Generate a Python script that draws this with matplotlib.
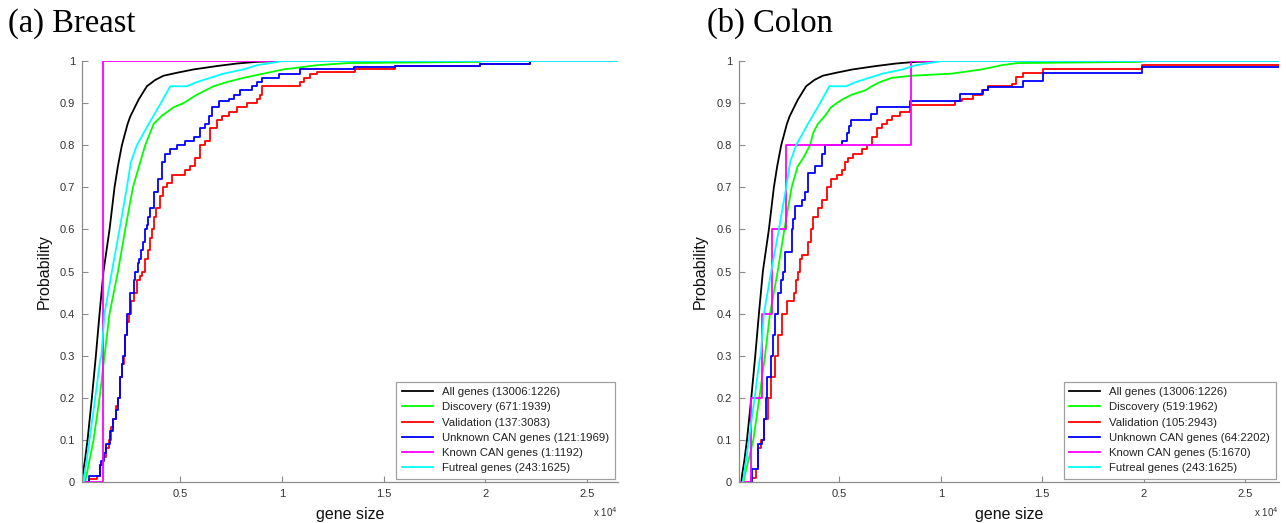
import matplotlib
matplotlib.use("Agg")
import matplotlib.pyplot as plt
from matplotlib.ticker import FuncFormatter

plt.rcParams['font.family'] = ['Liberation Sans', 'DejaVu Sans']

# ---------------------------------------------------------------------------
# data (gene size, cumulative probability)
# ---------------------------------------------------------------------------

# all genes, same curve in both panels
all_x = [164, 213, 311, 443, 656, 852, 1033, 1226, 1524, 1770, 1934, 2131, 2409, 2540,
         2950, 3360, 3770, 4179, 4835, 5655, 6802, 7785, 8769, 10000, 26700]
all_y = [0, 0.02, 0.05, 0.1, 0.2, 0.3, 0.4, 0.5, 0.6, 0.7, 0.75, 0.8, 0.85, 0.868,
         0.908, 0.94, 0.955, 0.965, 0.972, 0.98, 0.988, 0.994, 0.998, 1.0, 1.0]

# futreal genes, same curve in both panels
futreal_x = [246, 541, 820, 1065, 1120, 1278, 1639, 2016, 2377, 2573, 2868, 3442, 3688,
             4048, 4507, 5327, 5818, 6474, 7130, 8113, 8769, 10080, 26700]
futreal_y = [0, 0.1, 0.2, 0.29, 0.3, 0.4, 0.5, 0.6, 0.7, 0.76, 0.8, 0.85, 0.87,
             0.9, 0.94, 0.94, 0.95, 0.96, 0.97, 0.98, 0.99, 1.0, 1.0]

# (a) breast
disc_a_x = [328, 738, 1033, 1278, 1524, 1939, 2295, 2672, 3278, 3688, 4098, 4671, 5163,
            5818, 6638, 7294, 8113, 9096, 10080, 11719, 13194, 19750, 19750, 26700]
disc_a_y = [0, 0.1, 0.2, 0.3, 0.4, 0.5, 0.6, 0.7, 0.8, 0.85, 0.87, 0.89, 0.9,
            0.92, 0.94, 0.95, 0.96, 0.97, 0.98, 0.99, 0.995, 0.998, 1.0, 1.0]

valid_a_x = [520, 900, 1050, 1200, 1330, 1500, 1620, 1700, 1840, 1934, 2049, 2130, 2213,
             2295, 2380, 2459, 2580, 2704, 2868, 3000, 3114, 3250, 3393, 3500, 3606, 3688,
             3819, 3983, 4147, 4343, 4589, 5245, 5491, 5737, 5982, 6228, 6474, 6802, 7048,
             7376, 7785, 8277, 8769, 8933, 9015, 10899, 11100, 11400, 11719, 13604, 15570,
             19750, 22210]
valid_a_y = [0.007, 0.015, 0.04, 0.06, 0.08, 0.1, 0.13, 0.15, 0.18, 0.2, 0.25, 0.28, 0.3,
             0.35, 0.38, 0.4, 0.43, 0.45, 0.48, 0.49, 0.5, 0.53, 0.55, 0.58, 0.6, 0.63,
             0.65, 0.68, 0.7, 0.71, 0.73, 0.74, 0.75, 0.77, 0.8, 0.81, 0.84, 0.86, 0.87,
             0.88, 0.89, 0.9, 0.91, 0.92, 0.94, 0.95, 0.96, 0.97, 0.975, 0.98, 0.988,
             0.994, 1.0]

unk_a_x = [524, 1033, 1098, 1229, 1360, 1524, 1688, 1836, 1934, 2049, 2131, 2180, 2262,
           2377, 2540, 2704, 2800, 2900, 2980, 3065, 3150, 3278, 3350, 3400, 3524, 3688,
           3884, 4098, 4261, 4507, 4835, 5245, 5655, 5982, 6228, 6392, 6556, 6884, 7376,
           7621, 7949, 8523, 8769, 9015, 9834, 10899, 13522, 15570, 19750, 22210]
unk_a_y = [0.015, 0.04, 0.05, 0.07, 0.09, 0.12, 0.15, 0.17, 0.2, 0.25, 0.28, 0.3, 0.35,
           0.4, 0.45, 0.48, 0.5, 0.52, 0.53, 0.55, 0.57, 0.6, 0.61, 0.63, 0.65, 0.69,
           0.72, 0.76, 0.78, 0.79, 0.8, 0.81, 0.82, 0.84, 0.85, 0.87, 0.89, 0.905, 0.91,
           0.92, 0.93, 0.94, 0.95, 0.96, 0.97, 0.98, 0.985, 0.988, 0.994, 1.0]

known_a = [1192]

# (b) colon
disc_b_x = [263, 757, 1053, 1332, 1579, 1958, 2287, 2648, 2945, 3224, 3553, 3718, 3932,
            4293, 4590, 4869, 5198, 5609, 6267, 6596, 7008, 7583, 8570, 10544, 12025,
            13012, 13742, 19907, 19907, 26700]
disc_b_y = [0, 0.1, 0.2, 0.3, 0.4, 0.5, 0.6, 0.7, 0.75, 0.77, 0.8, 0.83, 0.85,
            0.87, 0.89, 0.9, 0.91, 0.92, 0.93, 0.94, 0.95, 0.96, 0.965, 0.97, 0.98,
            0.99, 0.995, 0.998, 1.0, 1.0]

valid_b_x = [650, 900, 1003, 1135, 1300, 1464, 1629, 1826, 1990, 2188, 2402, 2780, 2870,
             2945, 3060, 3142, 3471, 3603, 3718, 3932, 4129, 4376, 4590, 4869, 5116, 5281,
             5445, 5692, 6103, 6350, 6596, 6843, 7090, 7337, 7583, 7995, 8488, 10709, 11038,
             11614, 12025, 12354, 13505, 13700, 14070, 15057, 19907]
valid_b_y = [0.0095, 0.03, 0.08, 0.1, 0.15, 0.2, 0.25, 0.3, 0.35, 0.4, 0.43, 0.45, 0.48,
             0.5, 0.53, 0.54, 0.57, 0.6, 0.63, 0.65, 0.67, 0.7, 0.72, 0.73, 0.74, 0.76,
             0.77, 0.78, 0.79, 0.8, 0.82, 0.84, 0.85, 0.86, 0.87, 0.88, 0.895, 0.905, 0.91,
             0.92, 0.93, 0.94, 0.945, 0.963, 0.971, 0.981, 0.99]

unk_b_x = [674, 1003, 1168, 1300, 1365, 1415, 1629, 1711, 1826, 1990, 2122, 2237, 2319,
           2648, 2731, 2813, 3142, 3306, 3471, 3800, 4129, 4293, 5116, 5363, 5478, 5577,
           6547, 6843, 8488, 10956, 12107, 12354, 14070, 15057, 19907]
unk_b_y = [0.03, 0.09, 0.1, 0.15, 0.2, 0.25, 0.3, 0.35, 0.4, 0.45, 0.48, 0.5, 0.547,
           0.6, 0.625, 0.655, 0.67, 0.69, 0.735, 0.75, 0.78, 0.8, 0.81, 0.83, 0.845, 0.86,
           0.875, 0.89, 0.905, 0.922, 0.93, 0.939, 0.953, 0.971, 0.986]

known_b = [642, 1168, 1670, 2369, 8538]

labels_a = ["All genes (13006:1226)", "Discovery (671:1939)", "Validation (137:3083)",
            "Unknown CAN genes (121:1969)", "Known CAN genes (1:1192)",
            "Futreal genes (243:1625)"]
labels_b = ["All genes (13006:1226)", "Discovery (519:1962)", "Validation (105:2943)",
            "Unknown CAN genes (64:2202)", "Known CAN genes (5:1670)",
            "Futreal genes (243:1625)"]

xlim_a = (170, 26520)
xlim_b = (50, 26680)

AXCOL = "#8c8c8c"
TXTCOL = "#333333"
LW = 1.3

def stairs(ax, xs, ys, lo, hi, color, label):
    # cdf steps, from the left edge at 0 to the right edge at the last level
    ax.plot([lo] + xs + [hi], [0] + ys + [ys[-1]], drawstyle="steps-post",
            color=color, lw=LW, label=label)

def panel(ax, xlim, disc, valid, unk, known, labels):
    lo, hi = xlim
    ax.plot(all_x, all_y, color="k", lw=LW, label=labels[0])
    ax.plot(disc[0], disc[1], color="#00ff00", lw=LW, label=labels[1])
    stairs(ax, valid[0], valid[1], valid[0][0] - 120, hi, "#ff0000", labels[2])
    stairs(ax, unk[0], unk[1], unk[0][0] - 120, hi, "#0000ff", labels[3])
    n = len(known)
    stairs(ax, known, [(i + 1) / n for i in range(n)], lo, hi, "#ff00ff", labels[4])
    ax.plot(futreal_x, futreal_y, color="#00ffff", lw=LW, label=labels[5])

    ax.set_xlim(lo, hi)
    ax.set_ylim(0, 1)
    ax.set_xticks([5000, 10000, 15000, 20000, 25000])
    ax.xaxis.set_major_formatter(FuncFormatter(lambda v, p: "%g" % (v / 1e4)))
    ax.set_yticks([i / 10 for i in range(11)])
    ax.yaxis.set_major_formatter(FuncFormatter(lambda v, p: "%g" % v))

    for s in ("top", "right"):
        ax.spines[s].set_visible(False)
    for s in ("left", "bottom"):
        ax.spines[s].set_color(AXCOL)
        ax.spines[s].set_linewidth(0.9)
    ax.tick_params(direction="in", length=4, width=0.8, color=AXCOL,
                   labelcolor=TXTCOL, labelsize=8)
    ax.tick_params(axis="y", pad=5)
    ax.tick_params(axis="x", pad=5)

    ax.set_xlabel("gene size", fontsize=11.5, color="#111111")
    ax.xaxis.set_label_coords(0.5, -0.06)
    ax.set_ylabel("Probability", fontsize=11.5, color="#111111")
    ax.yaxis.set_label_coords(-0.057, 0.5)
    ax.text(1.0, -0.055, r"x 10$^4$", transform=ax.transAxes, ha="right", va="top",
            fontsize=7, color=TXTCOL)

    leg = ax.legend(loc="lower right", fontsize=8.2, fancybox=False, framealpha=1,
                    edgecolor="#a0a0a0", handlelength=2.7, handletextpad=0.8,
                    labelspacing=0.45, borderaxespad=0.3, borderpad=0.5)
    leg.get_frame().set_linewidth(0.9)
    for t in leg.get_texts():
        t.set_color("#222222")

fig = plt.figure(figsize=(12.86, 5.23), dpi=100)
ax1 = fig.add_axes([82 / 1286, 41 / 523, 536 / 1286, 421 / 523])
ax2 = fig.add_axes([739 / 1286, 41 / 523, 540 / 1286, 421 / 523])

panel(ax1, xlim_a, (disc_a_x, disc_a_y), (valid_a_x, valid_a_y),
      (unk_a_x, unk_a_y), known_a, labels_a)
panel(ax2, xlim_b, (disc_b_x, disc_b_y), (valid_b_x, valid_b_y),
      (unk_b_x, unk_b_y), known_b, labels_b)

fig.text(8 / 1286, 1 - 32 / 523, "(a) Breast", fontsize=23.5, family="Liberation Serif",
         va="baseline", ha="left")
fig.text(707 / 1286, 1 - 32 / 523, "(b) Colon", fontsize=23.5, family="Liberation Serif",
         va="baseline", ha="left")

fig.savefig("out.png", dpi=100)
